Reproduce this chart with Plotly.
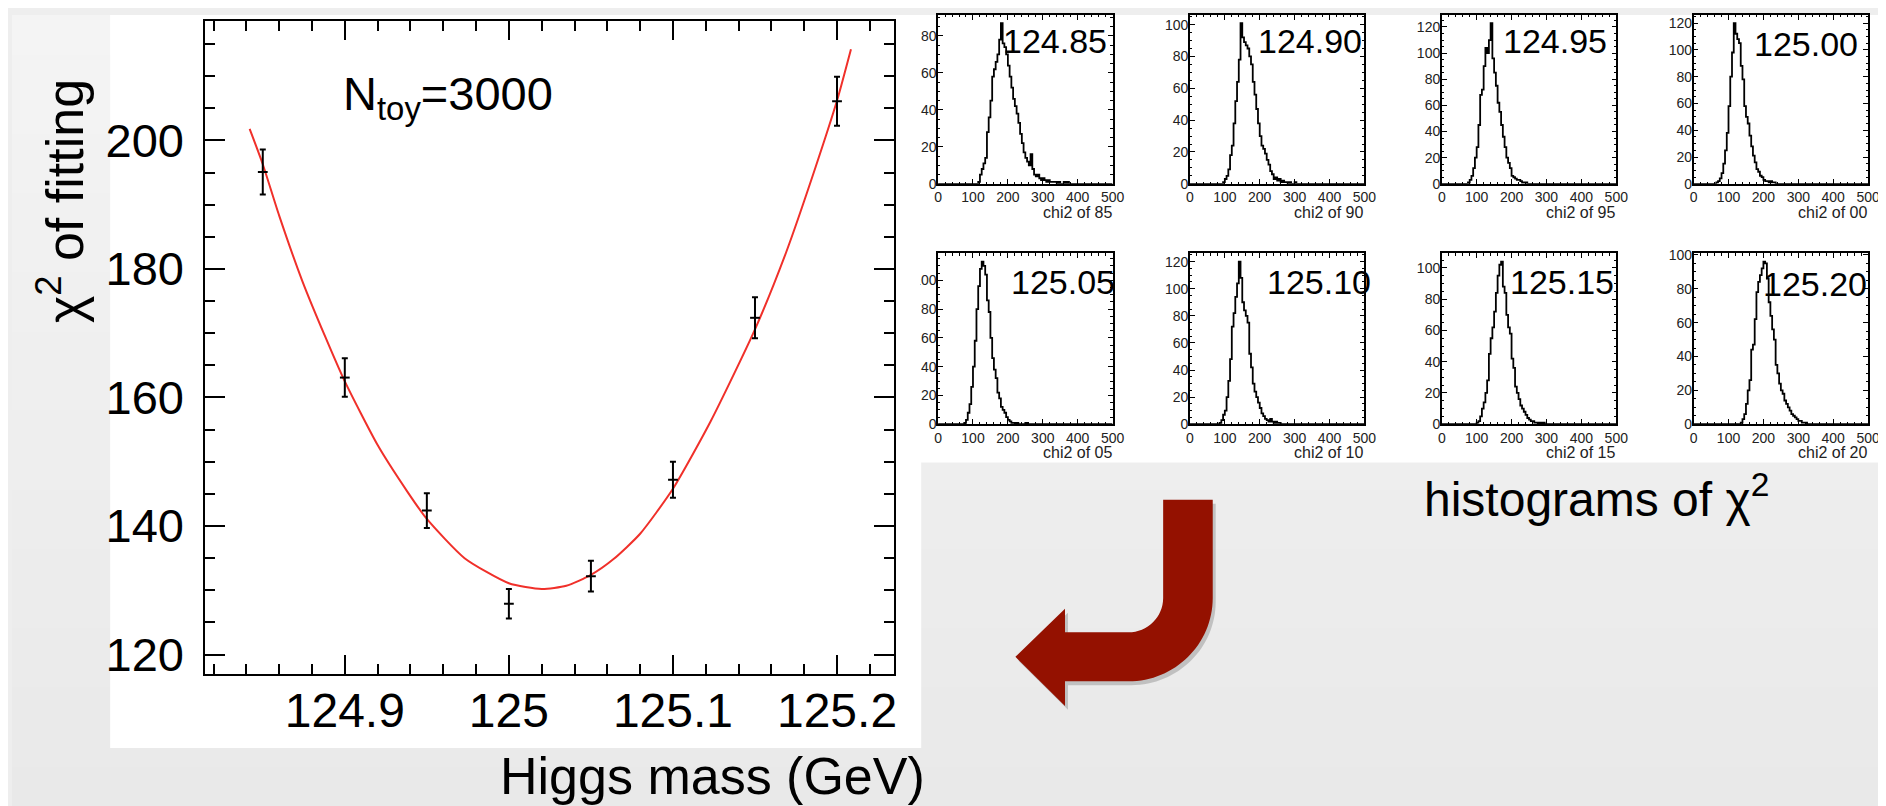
import plotly.graph_objects as go

W, H = 1886, 806
FONT = "Liberation Sans, Arial, Helvetica, sans-serif"

# ---------------- main chart data ----------------
mass = [124.85, 124.90, 124.95, 125.00, 125.05, 125.10, 125.15, 125.20]
chi2_mean = [195.1, 163.1, 142.4, 127.9, 132.2, 147.2, 172.4, 206.1]
chi2_err = [3.5, 3.0, 2.7, 2.3, 2.4, 2.8, 3.2, 3.8]

fit_mass = [124.842, 124.85, 124.86, 124.874, 124.888, 124.90, 124.92, 124.938,
            124.95, 124.973, 125.00, 125.02, 125.035, 125.05, 125.064, 125.08,
            125.10, 125.123, 125.15, 125.169, 125.187, 125.20, 125.2085]
fit_chi2 = [201.8, 196.3, 188.3, 178.2, 169.5, 162.5, 152.6, 145.4,
            141.1, 135.0, 131.1, 130.2, 130.7, 132.4, 134.9, 138.8,
            145.8, 156.3, 170.6, 182.6, 195.9, 206.2, 214.2]

x_tickvals = [124.9, 125.0, 125.1, 125.2]
x_ticktext = ["124.9", "125", "125.1", "125.2"]
y_tickvals = [120, 140, 160, 180, 200]

# ---------------- histogram data (bin width 5, chi2 0..500) ----------------
hist_names = ["124.85", "124.90", "124.95", "125.00", "125.05", "125.10", "125.15", "125.20"]
hist_titles = ["chi2 of 85", "chi2 of 90", "chi2 of 95", "chi2 of 00",
               "chi2 of 05", "chi2 of 10", "chi2 of 15", "chi2 of 20"]
hist_bin_width = 5
hist_starts = [110, 95, 75, 65, 75, 85, 100, 135]

h85 = [0, 1, 5, 8, 11, 14, 28, 36, 45, 58, 62, 66, 70, 78, 87, 76, 74, 70, 64, 58,
       52, 46, 42, 38, 33, 27, 22, 17, 14, 12, 10, 16, 8, 5, 4, 5, 3, 2, 3, 2,
       1, 2, 1, 1, 1, 1, 0, 1, 0, 0, 1, 0, 1, 0]
h90 = [1, 3, 5, 9, 18, 24, 38, 52, 64, 78, 101, 92, 89, 87, 85, 80, 75, 64, 56, 47,
       38, 30, 24, 22, 19, 15, 12, 8, 6, 3, 4, 2, 3, 1, 2, 1, 1, 0, 1, 0, 0, 1, 0]
h95 = [1, 3, 6, 12, 20, 28, 45, 68, 72, 90, 104, 100, 110, 123, 96, 85, 75, 62, 55, 45,
       36, 28, 20, 16, 12, 6, 5, 4, 3, 3, 2, 1, 1, 1, 0]
h00 = [1, 2, 4, 8, 15, 25, 38, 58, 80, 98, 120, 112, 108, 105, 88, 78, 58, 50, 45, 36,
       28, 21, 16, 11, 9, 6, 5, 3, 2, 2, 1, 2, 1, 1, 0]
h05 = [1, 3, 8, 14, 26, 40, 58, 80, 96, 108, 113, 110, 104, 86, 78, 60, 46, 38, 32, 22,
       18, 12, 10, 8, 5, 3, 2, 1, 1, 0, 1, 0, 0, 0, 0, 1, 0]
h10 = [1, 3, 7, 10, 20, 32, 48, 72, 82, 94, 104, 120, 108, 90, 84, 80, 75, 52, 42, 30,
       24, 20, 16, 12, 8, 6, 4, 3, 2, 4, 2, 1, 2, 1, 1, 0]
h15 = [1, 2, 5, 10, 14, 20, 28, 45, 55, 62, 72, 84, 95, 102, 104, 88, 84, 70, 62, 58,
       42, 36, 24, 20, 16, 12, 10, 8, 6, 4, 3, 2, 2, 1, 1, 0, 1, 0, 1, 0]
h20 = [1, 3, 6, 12, 20, 26, 44, 47, 62, 78, 84, 88, 92, 96, 95, 86, 72, 64, 56, 50,
       35, 30, 24, 20, 18, 14, 12, 10, 8, 6, 5, 4, 3, 2, 2, 1, 1, 1, 0]
hist_counts = [h85, h90, h95, h00, h05, h10, h15, h20]

# ---------------- layout geometry (pixels) ----------------
def px(x):
    return x / W

def py(y):
    return 1 - y / H

MAIN_X = (195, 890)
MAIN_Y = (6, 672)
COLS = [(934, 1110), (1188, 1364), (1442, 1618), (1696, 1872)]
ROWS = [(0, 172), (243, 417)]
LABEL_POS = [(1106, 27), (1364, 27), (1611, 26), (1864, 30),
             (1114, 272), (1373, 272), (1618, 272), (1873, 274)]

fig = go.Figure()

# background gradient + white panels
shapes = []
nb = 40
for i in range(nb):
    g = int(round(0xf4 - (0xf4 - 0xe9) * i / (nb - 1)))
    col = f"rgb({g},{g},{g})"
    shapes.append(dict(type="rect", xref="paper", yref="paper", x0=0, x1=1,
                       y0=py(H * (i + 1) / nb) - 0.001, y1=py(H * i / nb),
                       fillcolor=col, line_width=0, layer="below"))
shapes.append(dict(type="rect", xref="paper", yref="paper", x0=px(99), x1=px(917),
                   y0=py(747), y1=py(0), fillcolor="white", line_width=0, layer="below"))
shapes.append(dict(type="rect", xref="paper", yref="paper", x0=px(916), x1=1,
                   y0=py(456), y1=py(0), fillcolor="white", line_width=0, layer="below"))
# clip of the pasted histogram picture at its left edge
shapes.append(dict(type="rect", xref="paper", yref="paper", x0=px(895), x1=px(916),
                   y0=py(430), y1=py(230), fillcolor="white", line_width=0, layer="above"))

# arrow (decoration), built in pixel space
def path_from(cmds, dx=0, dy=0):
    out = []
    for c in cmds:
        op = c[0]
        pts = c[1:]
        coords = []
        for j in range(0, len(pts), 2):
            coords.append(f"{px(pts[j] + dx):.5f},{py(pts[j + 1] + dy):.5f}")
        out.append(op + " " + " ".join(coords))
    return " ".join(out) + " Z"

k = 0.5523
R_out, R_in = 85, 35
cx, cy = 1126, 594
arrow_cmds = [
    ("M", 1161, 494), ("L", 1211, 494), ("L", 1211, cy),
    ("C", 1211, cy + R_out * k, cx + R_out * k, cy + R_out, cx, cy + R_out),
    ("L", 1062, 679), ("L", 1062, 704), ("L", 1012, 654), ("L", 1062, 605),
    ("L", 1062, 629), ("L", cx, cy + R_in),
    ("C", cx + R_in * k, cy + R_in, 1161, cy + R_in * k, 1161, cy),
]
shapes.append(dict(type="path", xref="paper", yref="paper", path=path_from(arrow_cmds, 3, 4),
                   fillcolor="rgba(0,0,0,0.18)", line_width=0, layer="below"))
shapes.append(dict(type="path", xref="paper", yref="paper", path=path_from(arrow_cmds),
                   fillcolor="#941100", line_width=0, layer="below"))

# ---------------- main chart traces ----------------
fig.add_trace(go.Scatter(x=fit_mass, y=fit_chi2, mode="lines",
                         line=dict(color="#f0302a", width=2, shape="spline", smoothing=0.6),
                         xaxis="x", yaxis="y", hoverinfo="skip"))
fig.add_trace(go.Scatter(x=mass, y=chi2_mean, mode="markers",
                         marker=dict(symbol="line-ew", size=7, line=dict(color="black", width=2)),
                         error_y=dict(type="data", array=chi2_err, color="black", thickness=2, width=3),
                         xaxis="x", yaxis="y"))

axis_common = dict(showline=True, linecolor="black", linewidth=2, mirror="allticks",
                   ticks="inside", tickcolor="black", showgrid=False, zeroline=False)

layout = dict(
    width=W, height=H, margin=dict(l=0, r=0, t=0, b=0),
    paper_bgcolor="#eeeeee", plot_bgcolor="white", showlegend=False,
    font=dict(family=FONT, color="black"),
    xaxis=dict(domain=[px(MAIN_X[0]), px(MAIN_X[1])], range=[124.815, 125.235],
               anchor="y", tickvals=x_tickvals, ticktext=x_ticktext,
               ticklen=19, tickwidth=2, ticklabelstandoff=-7,
               tickfont=dict(size=48, family=FONT, color="black"),
               minor=dict(dtick=0.02, tick0=124.8, ticks="inside", ticklen=10, tickwidth=2,
                          tickcolor="black"),
               **axis_common),
    yaxis=dict(domain=[py(MAIN_Y[1]), py(MAIN_Y[0])], range=[116.9, 218.6],
               anchor="x", tickvals=y_tickvals,
               ticklen=20, tickwidth=2, ticklabelstandoff=10,
               tickfont=dict(size=47, family=FONT, color="black"),
               minor=dict(dtick=5, tick0=120, ticks="inside", ticklen=10, tickwidth=2,
                          tickcolor="black"),
               **axis_common),
)

annotations = [
    dict(text="N<sub>toy</sub>=3000", x=px(332), y=py(84), xref="paper", yref="paper",
         xanchor="left", yanchor="middle", showarrow=False,
         font=dict(size=47, family=FONT, color="black")),
    dict(text="χ<sup>2</sup> of fitting", x=px(50), y=py(190), xref="paper", yref="paper",
         textangle=-90, xanchor="center", yanchor="middle", showarrow=False,
         font=dict(size=52, family=FONT, color="black")),
    dict(text="Higgs mass (GeV)", x=px(706), y=py(775), xref="paper", yref="paper",
         xanchor="center", yanchor="middle", showarrow=False,
         font=dict(size=52, family=FONT, color="black")),
    dict(text="histograms of χ<sup>2</sup>", x=px(1422), y=py(490), xref="paper", yref="paper",
         xanchor="left", yanchor="middle", showarrow=False,
         font=dict(size=48, family=FONT, color="black")),
]

# ---------------- histogram panels ----------------
for i in range(8):
    n = i + 2
    col = COLS[i % 4]
    row = ROWS[i // 4]
    counts = hist_counts[i]
    lo = hist_starts[i]
    xs = [0] + [lo + hist_bin_width * j for j in range(len(counts))] + [lo + hist_bin_width * len(counts), 500]
    ys = [0] + counts + [0, 0]
    fig.add_trace(go.Scatter(x=xs, y=ys, mode="lines", line=dict(color="black", width=1.8, shape="hv"),
                             xaxis=f"x{n}", yaxis=f"y{n}", hoverinfo="skip"))
    ymax = 1.05 * max(counts)
    hcommon = dict(showline=True, linecolor="black", linewidth=1.5, mirror="allticks",
                   ticks="inside", tickcolor="black", showgrid=False, zeroline=False,
                   tickfont=dict(size=14, family=FONT, color="#222"))
    layout[f"xaxis{n}"] = dict(domain=[px(col[0]), px(col[1])], range=[0, 500], anchor=f"y{n}",
                               tickvals=[0, 100, 200, 300, 400, 500], ticklen=5, tickwidth=1,
                               ticklabelstandoff=0,
                               minor=dict(dtick=20, tick0=0, ticks="inside", ticklen=2.5,
                                          tickwidth=1, tickcolor="black"),
                               **hcommon)
    layout[f"yaxis{n}"] = dict(domain=[py(row[1]), py(row[0])], range=[0, ymax], anchor=f"x{n}",
                               dtick=20, tick0=0, ticklen=5, tickwidth=1, ticklabelstandoff=-3,
                               minor=dict(dtick=5, tick0=0, ticks="inside", ticklen=2.5,
                                          tickwidth=1, tickcolor="black"),
                               **hcommon)
    annotations.append(dict(text=hist_titles[i], x=px(col[1] + 1), y=py(row[1] + 29),
                            xref="paper", yref="paper", xanchor="right", yanchor="middle",
                            showarrow=False, font=dict(size=16, family=FONT, color="#222")))
    lx, ly = LABEL_POS[i]
    annotations.append(dict(text=hist_names[i], x=px(lx), y=py(ly), xref="paper", yref="paper",
                            xanchor="right", yanchor="middle", showarrow=False,
                            font=dict(size=34, family=FONT, color="black")))

layout["shapes"] = shapes
layout["annotations"] = annotations
fig.update_layout(**layout)

fig.write_html("out.html")
